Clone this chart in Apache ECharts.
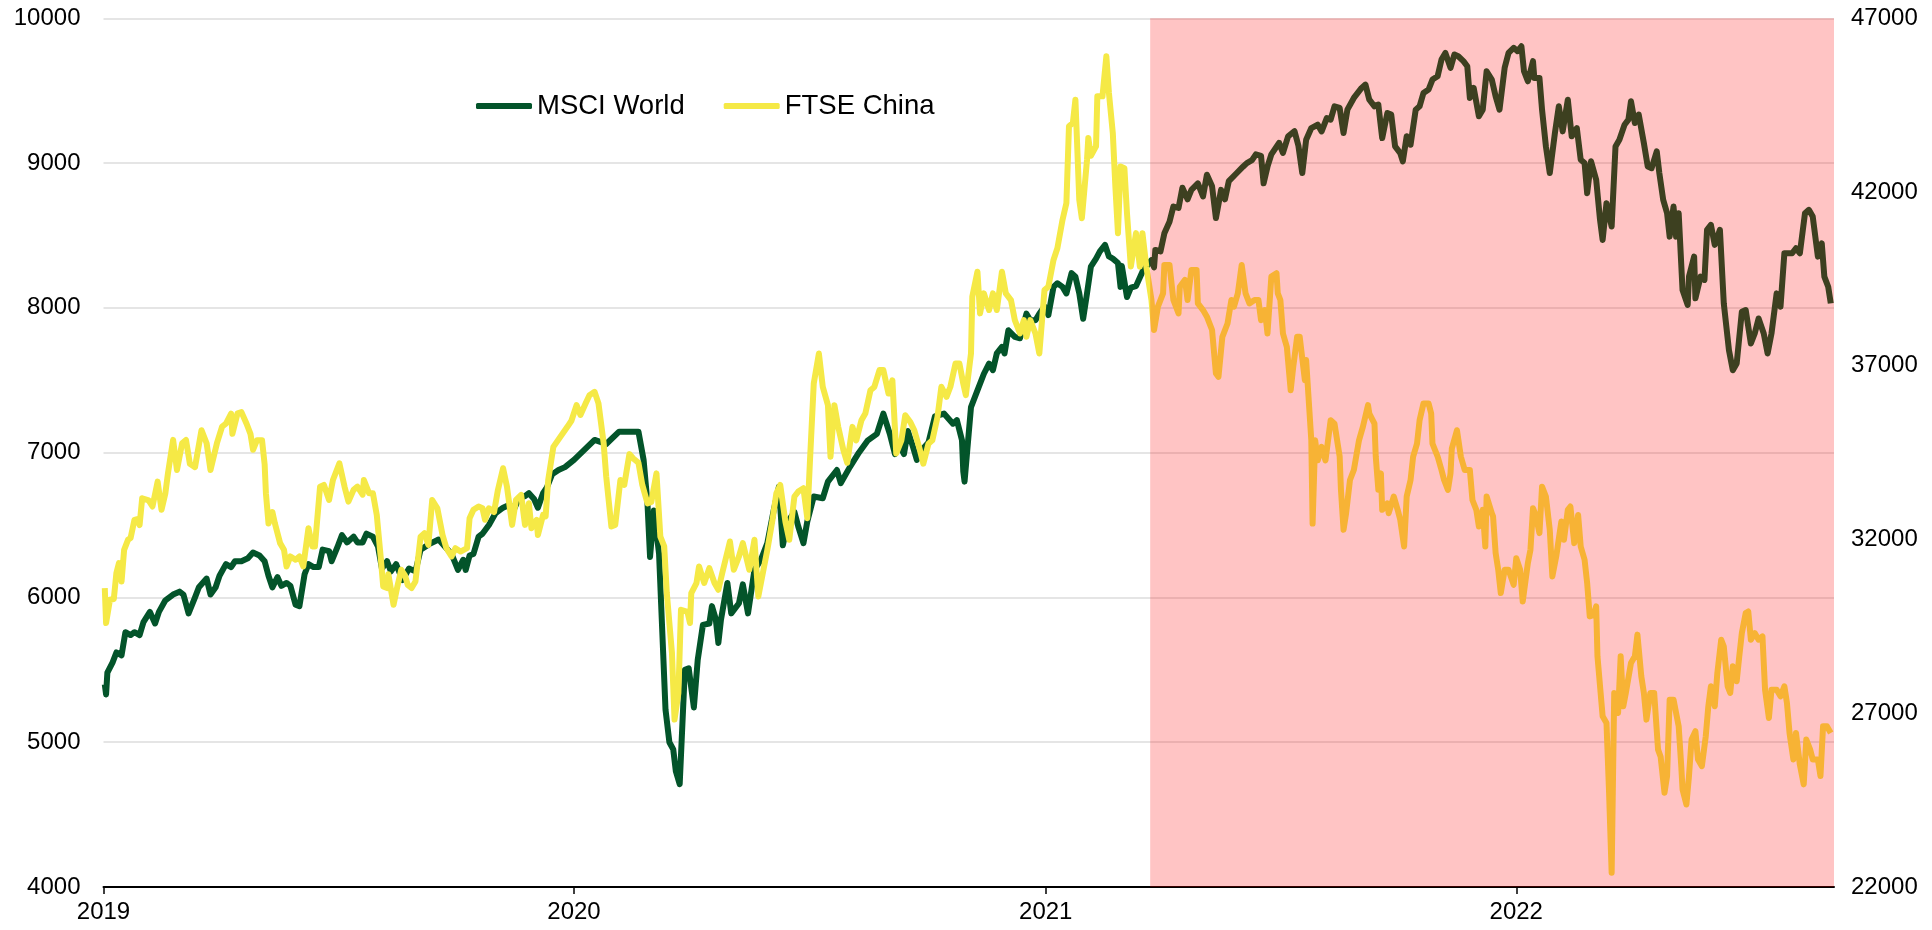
<!DOCTYPE html>
<html>
<head>
<meta charset="utf-8">
<script src="https://cdn.jsdelivr.net/npm/echarts@6/dist/echarts.min.js"></script>
<style>
  html, body { margin: 0; background: #fff; }
  #chart { width: 1932px; height: 930px; }
</style>
</head>
<body>
<div id="chart"></div>
<script>
// days counted from 2019-01-01
const msciDays = [1,2,3,7,10,14,17,21,24,28,31,36,40,43,48,54,59,62,66,71,74,80,83,87,90,95,99,102,107,112,116,121,125,128,131,135,138,142,145,149,152,156,159,163,167,170,175,177,182,185,189,194,197,201,204,209,213,216,220,223,227,232,237,242,246,253,260,266,270,275,279,281,284,287,291,294,299,304,310,315,318,322,327,330,334,337,341,344,348,353,358,365,
  381,390,400,415,419,422,424,427,431,433,436,439,442,444,447,451,454,458,461,465,470,472,475,477,479,484,487,493,496,500,505,510,515,520,524,527,531,536,539,543,546,551,558,562,569,572,579,586,593,600,605,610,614,617,621,624,628,631,635,640,645,652,659,662,666,667,668,673,678,683,687,690,693,697,699,702,707,711,716,719,723,726,730,
  733,737,740,744,747,751,754,757,760,763,766,770,773,777,780,783,787,789,790,794,797,801,806,813,815,816,820,823,827,830,834,837,841,844,849,853,856,860,863,867,870,873,879,884,887,891,894,898,900,903,906,912,915,919,924,927,930,933,937,942,945,949,952,955,959,962,965,970,976,979,982,986,989,992,996,999,1002,1006,1008,1011,1014,1018,1021,1024,1028,1031,1035,1038,1041,1045,1048,1051,1055,1058,1060,1063,1067,1070,1073,1077,1080,1083,1087,1090,1094,
  1097,1100,1102,1105,1109,1110,1114,1116,1119,1122,1126,1129,1132,1136,1139,1143,1146,1149,1151,1154,1158,1161,1163,1166,1170,1173,1176,1180,1183,1185,1188,1191,1195,1198,1201,1205,1207,1210,1213,1215,1218,1220,1222,1225,1229,1230,1234,1235,1239,1242,1244,1247,1250,1254,1257,1261,1264,1267,1271,1274,1278,1281,1284,1288,1291,1294,1298,1301,1304,1310,1313,1316,1320,1323,1326,1330,1333,1335,1338,1340];
const msciValues = [5400,5330,5480,5550,5620,5600,5760,5740,5760,5740,5830,5900,5820,5900,5980,6020,6040,6020,5890,6000,6070,6130,6020,6070,6150,6230,6210,6250,6250,6270,6310,6290,6250,6150,6070,6140,6080,6100,6080,5950,5940,6160,6230,6210,6210,6330,6320,6250,6360,6430,6380,6420,6380,6380,6440,6420,6350,6200,6250,6180,6230,6120,6200,6180,6330,6370,6400,6340,6300,6190,6260,6190,6290,6300,6420,6440,6500,6580,6620,6640,6600,6680,6700,6720,6680,6620,6720,6760,6850,6880,6900,6950,
  7088,7060,7145,7145,6950,6650,6280,6600,6300,5870,5225,5000,4950,4800,4710,5500,5510,5240,5570,5810,5820,5940,5850,5685,5845,6100,5890,5960,6090,5890,6190,6260,6375,6605,6765,6360,6525,6590,6490,6375,6525,6697,6685,6800,6880,6790,6900,7000,7085,7130,7270,7130,6990,7060,6990,7150,7040,6950,7020,7070,7250,7270,7200,7225,7085,6870,6800,7315,7430,7545,7615,7570,7685,7730,7685,7845,7800,7790,7960,7915,7915,7960,8010,
  7950,8145,8170,8145,8100,8240,8215,8100,7925,8100,8285,8340,8390,8435,8355,8340,8310,8145,8290,8075,8140,8150,8250,8330,8280,8400,8390,8515,8595,8700,8690,8830,8750,8815,8860,8770,8920,8840,8620,8815,8750,8875,8930,8975,9000,9020,9060,9050,8860,8975,9060,9140,9070,9185,9220,9120,8931,9161,9242,9265,9219,9311,9300,9392,9381,9208,9369,9450,9519,9542,9438,9392,9404,9173,9346,9335,9115,9069,9012,9185,9127,9369,9392,9484,9508,9577,9600,9715,9761,9658,9750,9738,9704,9669,9450,9519,9323,9369,9634,9577,9461,9369,9658,9761,9796,
  9773,9807,9634,9565,9704,9588,9588,9369,9115,8931,9208,9392,9219,9438,9185,9242,9023,9000,8792,9012,8885,8608,8469,8723,8562,9115,9161,9265,9300,9427,9277,9335,9138,8977,8965,9081,8931,8746,8654,8492,8700,8492,8654,8123,8020,8216,8354,8066,8216,8193,8539,8573,8435,8539,8031,7708,7569,7616,7973,7985,7754,7823,7927,7823,7685,7823,8100,8008,8377,8377,8412,8377,8654,8677,8631,8354,8446,8216,8146,8031];

const ftseDays = [1,2,5,8,10,12,14,16,19,21,24,26,28,30,35,38,42,45,48,50,54,57,61,64,67,71,76,80,83,88,92,95,99,100,104,107,111,114,116,119,123,125,126,128,131,133,137,140,142,145,149,152,155,159,162,164,168,171,175,178,183,187,190,194,197,201,202,206,209,212,215,217,220,221,225,228,231,234,236,239,242,246,249,252,255,259,263,266,270,273,277,282,284,287,291,294,296,299,303,306,310,313,317,320,324,327,330,332,336,337,341,343,345,349,360,363,
  367,370,374,377,381,384,388,390,394,397,401,404,408,411,415,418,422,425,429,432,435,437,441,443,446,448,453,455,456,460,462,466,470,474,477,480,486,489,493,496,501,505,508,512,515,519,522,525,529,532,536,539,543,546,548,551,555,558,562,564,567,570,574,577,581,584,588,591,595,598,602,605,609,612,615,619,622,626,629,633,636,640,643,647,650,654,657,661,664,667,669,673,674,678,680,683,687,690,693,697,700,704,707,711,714,716,719,723,726,730,
  733,737,740,744,747,749,752,754,757,759,763,764,766,770,771,775,778,780,783,785,787,789,792,794,797,801,804,806,809,813,815,818,822,823,827,830,834,835,839,841,844,848,849,853,856,860,863,865,868,872,875,877,880,883,886,889,893,896,898,901,903,906,910,911,913,915,918,921,923,926,928,932,933,937,938,940,942,945,948,952,955,959,960,962,964,967,970,974,977,981,982,986,987,989,991,992,996,997,1001,1004,1006,1009,1011,1014,1016,1019,1021,1024,1028,1030,1031,1035,1038,1040,1043,1045,1046,1050,1053,1056,1060,1062,1065,1067,1070,1072,1073,1077,1078,1080,1082,1084,1087,1090,1094,
  1096,1099,1101,1105,1107,1109,1111,1114,1116,1119,1122,1124,1127,1131,1133,1136,1138,1141,1144,1146,1149,1151,1153,1156,1158,1159,1163,1166,1168,1170,1172,1175,1177,1179,1181,1185,1188,1190,1193,1195,1197,1200,1203,1206,1208,1211,1213,1215,1218,1222,1224,1225,1228,1230,1232,1235,1237,1240,1243,1245,1247,1250,1252,1255,1257,1260,1262,1264,1267,1269,1271,1274,1276,1278,1281,1284,1287,1289,1292,1294,1298,1301,1304,1306,1308,1311,1313,1316,1319,1321,1324,1326,1330,1332,1334,1337,1340];
const ftseValues = [30600,29596,30267,30290,31033,31321,30792,31704,31992,32042,32567,32583,32417,33188,33125,32950,33667,32854,33333,33904,34867,34000,34771,34867,34183,34083,35146,34771,34000,34771,35250,35333,35625,35042,35633,35667,35333,35042,34583,34854,34854,34167,33333,32458,32792,32458,31896,31708,31225,31513,31417,31513,31225,32325,31800,31800,33521,33571,33138,33713,34192,33521,33092,33429,33521,33292,33713,33333,33333,32708,31513,30650,30604,31000,30121,30650,31129,30958,30696,30604,30792,32083,32183,31846,33138,32900,32133,31750,31513,31750,31654,31750,32613,32854,32950,32900,32567,32900,32792,33429,34050,33521,32421,33138,33283,32421,33042,32325,32567,32133,32708,32667,33713,34667,35250,35417,
  35867,35583,35917,36154,36250,35917,34771,33813,32375,32417,33713,33571,34458,34333,34208,33571,33042,33083,33904,32083,31800,30458,28733,26817,27583,29979,29917,29596,30458,30746,31225,30750,31175,30750,30554,31033,31942,31129,31513,31896,31129,31992,30363,31129,31704,32567,33333,33571,32517,31992,33238,33379,33475,32613,34208,36488,37354,36392,35867,34383,35867,35242,34575,34208,35242,34854,35433,35625,36296,36392,36875,36875,36200,36583,34479,34854,35579,35375,35146,34625,34183,34758,34854,35529,36396,36104,36396,37067,37067,36488,36154,37354,38988,39708,38508,39083,38604,39083,38604,39708,39083,38892,38313,37929,38313,37833,38313,37929,37354,39179,
  39275,40046,40383,41200,41679,43892,43988,44658,41775,41246,42929,43554,43042,43313,44754,44754,45908,44850,43700,42158,40817,42738,42688,41392,39854,40817,39854,40817,39854,38892,38029,38700,39083,39900,39900,38892,38508,39275,39471,38892,39758,39758,38796,38604,38413,38029,36779,36683,37833,38217,38892,38700,39083,39900,39083,38796,38892,38892,38313,38604,37929,39567,39663,39083,38892,37929,37546,36296,36971,37833,37833,36583,37163,34854,32458,34854,34279,34667,34279,35433,35333,34388,33429,32279,32758,33713,34000,34854,35242,35867,35625,35333,34388,33429,33904,32854,33042,32758,33238,32854,32567,31800,33238,33713,34388,34758,35433,35913,35913,35625,34758,34388,34000,33713,33429,33904,34617,35146,34388,34000,34000,33138,32854,32375,32854,31800,33238,32758,32667,31608,31129,30458,31129,31129,30696,
  31463,31129,30217,31321,31704,32900,32708,32183,33521,33238,32279,30938,31513,32517,31992,32854,32950,31896,32708,31800,31417,30746,29788,29833,30075,28638,26913,26721,24713,22413,27583,27008,28638,27200,27583,28446,28638,29263,28063,27583,26817,27583,27583,25954,25750,24713,25192,27392,27392,26625,25479,24808,24375,25192,26242,26483,25667,25479,26338,27200,27775,27200,28158,29117,28917,27775,27583,28350,27921,28638,29308,29883,29929,29117,29308,29117,29213,27679,26863,27679,27679,27488,27775,27296,26433,25667,26433,25525,24954,26242,25954,25667,25667,25192,26625,26625,26433];

const yearTicks = ['2019-01-01', '2020-01-01', '2021-01-01', '2022-01-01'];
const shadeStart = 812;   // 2021-03-23
const axisEndDay = 1342.5;

const DAY = 86400000;
const t0 = Date.UTC(2019, 0, 1);
const toTime = d => t0 + d * DAY;
const pairs = (days, vals) => days.map((d, i) => [toTime(d), vals[i]]);
const yearStamps = yearTicks.map(s => Date.parse(s + 'T00:00:00Z'));

const chart = echarts.init(document.getElementById('chart'));
const font = 'Liberation Sans, Arial, sans-serif';
const plain = v => String(v);   // no thousands separator

chart.setOption({
  animation: false,
  textStyle: { fontFamily: font },
  grid: { left: 103.5, right: 98, top: 18.3, bottom: 43, outerBoundsMode: 'none' },
  legend: {
    left: 471, top: 87,
    icon: 'roundRect',
    itemWidth: 56, itemHeight: 6, itemGap: 39,
    textStyle: { fontSize: 27.5, color: '#000', fontFamily: font },
    data: ['MSCI World', 'FTSE China']
  },
  xAxis: {
    type: 'value',
    min: toTime(0), max: toTime(axisEndDay),
    axisLine: { lineStyle: { color: '#000', width: 2 } },
    axisTick: {
      customValues: yearStamps,
      length: 7, lineStyle: { color: '#000', width: 1.5 }
    },
    axisLabel: {
      customValues: yearStamps,
      formatter: v => String(new Date(v).getUTCFullYear()),
      fontSize: 24, color: '#000', margin: 13, fontFamily: font
    },
    splitLine: { show: false }
  },
  yAxis: [
    {
      type: 'value', min: 4000, max: 10000, interval: 1000,
      axisLine: { show: false }, axisTick: { show: false },
      axisLabel: { fontSize: 24, color: '#000', margin: 23, fontFamily: font, formatter: plain },
      splitLine: { lineStyle: { color: '#dcdcdc', width: 1.5 } }
    },
    {
      type: 'value', min: 22000, max: 47000, interval: 5000,
      axisLine: { show: false }, axisTick: { show: false },
      axisLabel: { fontSize: 24, color: '#000', margin: 17, fontFamily: font, formatter: plain },
      splitLine: { show: false }
    }
  ],
  series: [
    {
      name: 'MSCI World', type: 'line', yAxisIndex: 0,
      data: pairs(msciDays, msciValues),
      symbol: 'none', z: 2,
      itemStyle: { color: '#03542a' },
      lineStyle: { color: '#03542a', width: 6, join: 'round' }
    },
    {
      name: 'FTSE China', type: 'line', yAxisIndex: 1,
      data: pairs(ftseDays, ftseValues),
      symbol: 'none', z: 3,
      itemStyle: { color: '#f5e946' },
      lineStyle: { color: '#f5e946', width: 6, join: 'round' },
      markArea: {
        silent: true, z: 10,
        itemStyle: { color: 'rgba(255,0,0,0.23)' },
        data: [[{ xAxis: toTime(shadeStart) }, { xAxis: toTime(axisEndDay) }]]
      }
    }
  ]
});
</script>
</body>
</html>
